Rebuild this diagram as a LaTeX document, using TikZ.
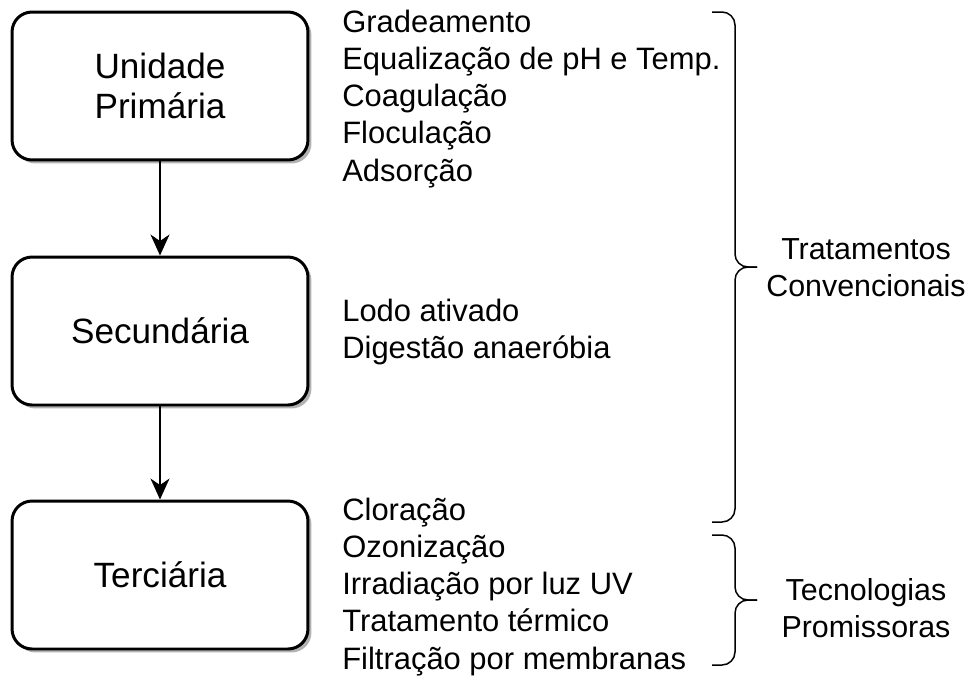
\documentclass[tikz,border=0pt]{standalone}
\usepackage{fontspec}
\setmainfont{Liberation Sans}
\usetikzlibrary{calc,positioning}
\usetikzlibrary{shadows,arrows.meta}
\def\totalwidth{967}
\def\totalheight{677}
\tikzstyle{unit}                 = [draw,line width=1.7pt,rounded corners=0.4cm,
                                    fill=white,align=center,
                                    minimum width=5.92cm,minimum height=2.96cm,
                                    font=\fontsize{20}{22.5}\selectfont,
                                    drop shadow={shadow xshift=0.07cm,shadow yshift=-0.07cm,
                                                 fill=black!30,opacity=1}]
\tikzstyle{items}                = [anchor=north west,align=left,inner sep=0pt,
                                    font=\fontsize{17.6}{21.1}\selectfont]
\tikzstyle{group}                = [align=center,inner sep=0pt,
                                    font=\fontsize{17.3}{21}\selectfont]
\tikzset{flow/.style={-{Stealth[length=4.2mm,width=3.8mm,inset=1.3mm]}, line width=0.9pt},
         curly/.style={rounded corners=0.26cm, line width=0.85pt}
}

\begin{document}
\begin{tikzpicture}[x=0.02cm,y=-0.02cm]
        \useasboundingbox (0,0) rectangle (\totalwidth,\totalheight);

        % Units
        \node[unit] (prim) at (160,86)  {Unidade\\Primária};
        \node[unit] (sec)  at (160,331) {Secundária};
        \node[unit] (ter)  at (160,575) {Terciária};

        \draw[flow] (prim) -- (sec);
        \draw[flow] (sec) -- (ter);

        % Processes
        \node[items] (primlist) at (342,10) {Gradeamento\\Equalização de pH e Temp.\\Coagulação\\Floculação\\Adsorção};
        \node[items] (seclist)  at (342,299) {Lodo ativado\\Digestão anaeróbia};
        \node[items] (terlist)  at (342,498) {Cloração\\Ozonização\\Irradiação por luz UV\\Tratamento térmico\\Filtração por membranas};

        % Braces
        \coordinate (convtop) at (712,12);
        \coordinate (convbot) at (712,522);
        \coordinate (convtip) at (757,267);
        \coordinate (promtop) at (712,535);
        \coordinate (prombot) at (712,665);
        \coordinate (promtip) at (757,600);
        \draw[curly] (convtop) -| (735,267) -- (convtip);
        \draw[curly] (convtip) -- (735,267) |- (convbot);
        \draw[curly] (promtop) -| (735,600) -- (promtip);
        \draw[curly] (promtip) -- (735,600) |- (prombot);

        \node[group] (conv) at (866,268) {Tratamentos\\Convencionais};
        \node[group] (prom) at (866,608) {Tecnologias\\Promissoras};
    \end{tikzpicture}
\end{document}
